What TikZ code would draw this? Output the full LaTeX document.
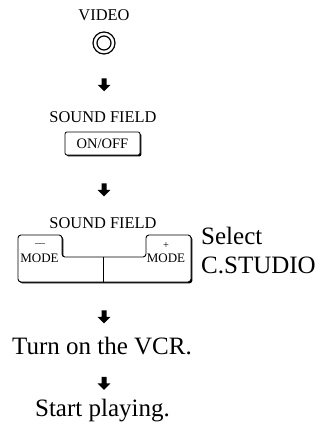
\documentclass[tikz,border=0pt]{standalone}
\usepackage{fontspec}
\setmainfont{Liberation Serif}
\usepackage{tikz}
\usetikzlibrary{shapes.arrows, shadows, positioning}

\begin{document}
\begin{tikzpicture}[
    x=1pt, y=-1pt,
    smalltxt/.style={font=\fontsize{16.4}{18}\selectfont, inner sep=0pt, anchor=base},
    bigtxt/.style={font=\fontsize{25}{29}\selectfont, inner sep=0pt, anchor=base},
    modetxt/.style={font=\fontsize{13}{14}\selectfont, inner sep=0pt, anchor=base},
    downarrow/.style={single arrow, fill=black, draw=none, rotate=-90, minimum height=13pt, inner sep=2.3pt, single arrow head extend=3.8pt, single arrow head indent=0pt},
    btnshadow/.style={drop shadow={shadow xshift=1.4pt, shadow yshift=-1.4pt, fill=black, opacity=1}}
]
\useasboundingbox (0,0) rectangle (321,431);

% Video input
\node (vid) [smalltxt] at (104, 20) {VIDEO};
\draw[line width=1.2pt] (104, 43) circle (11);
\draw[line width=1.2pt] (104, 43) circle (7);

\node (arr1) [downarrow] at (104, 83.5) {};

% Sound field on/off
\node (sf1) [smalltxt] at (103, 122) {SOUND FIELD};
\node (onoff) [draw, line width=0.8pt, fill=white, rounded corners=2pt, btnshadow, minimum width=75pt, minimum height=23pt, inner sep=0pt, font=\fontsize{14.5}{15}\selectfont] at (102.5, 143.5) {ON/OFF};

\node (arr2) [downarrow] at (104, 188.5) {};

% Mode buttons
\node (sf2) [smalltxt] at (103, 228) {SOUND FIELD};
\draw[line width=0.9pt, fill=white, rounded corners=3pt, btnshadow] (18,235) -- (62,235) -- (62,257) -- (146,257) -- (146,235) -- (191,235) -- (191,282) -- (18,282) -- cycle;
\draw[line width=0.8pt] (103,257) -- (103,282);
\node (minus) [modetxt, font=\fontsize{10}{11}\selectfont] at (40, 246) {\textemdash};
\node (modeL) [modetxt] at (39.5, 262) {MODE};
\node (plus) [modetxt, font=\fontsize{10.5}{11}\selectfont] at (166, 248) {+};
\node (modeR) [modetxt] at (166, 262) {MODE};

\node (sel) [bigtxt, anchor=base west] at (201, 244) {Select};
\node (cstudio) [bigtxt, anchor=base west] at (201, 273) {C.STUDIO};

\node (arr3) [downarrow] at (104, 315.5) {};
\node (vcr) [bigtxt] at (102, 354) {Turn on the VCR.};

\node (arr4) [downarrow] at (104, 382) {};
\node (play) [bigtxt] at (102.5, 416) {Start playing.};

\end{tikzpicture}
\end{document}
